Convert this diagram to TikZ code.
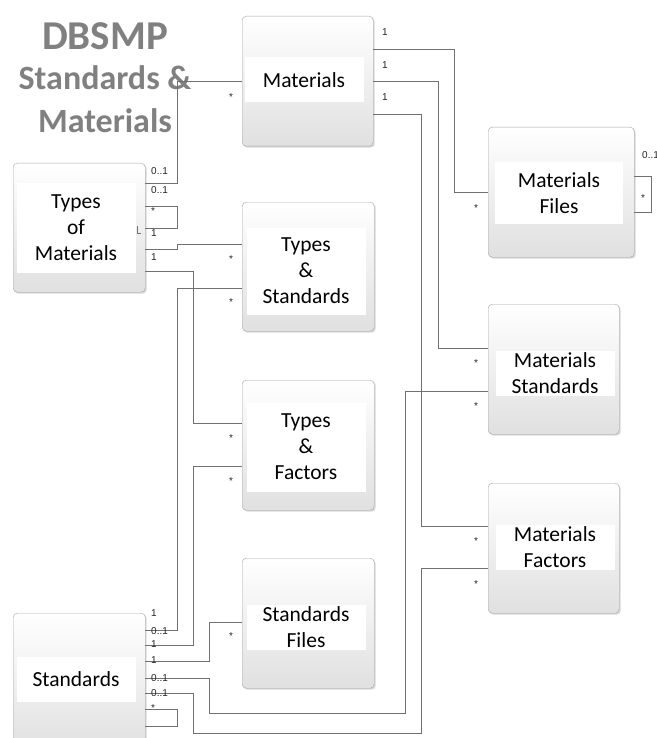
\documentclass[tikz,border=0pt]{standalone}
\usepackage{fontspec}
\setmainfont{Carlito}
\newfontfamily\multfont{Liberation Sans}
\usetikzlibrary{shadows}
\definecolor{boxedge}{RGB}{165,165,165}
\definecolor{boxlow}{RGB}{224,224,224}
\definecolor{relgray}{RGB}{112,112,112}
\definecolor{titlegray}{RGB}{128,128,128}
\definecolor{multgray}{RGB}{35,35,35}
\tikzset{
  entity/.style={draw=boxedge, rounded corners=4pt, top color=white, bottom color=boxlow,
    minimum width=131, minimum height=130, anchor=north west, inner sep=0,
    drop shadow={shadow xshift=1.5pt, shadow yshift=-1.5pt, opacity=0.3, fill=gray}},
  band/.style={fill=white, inner xsep=0, inner ysep=0.5, minimum width=119, minimum height=45,
    align=center, font=\fontsize{21.5}{26}\selectfont},
  rel/.style={draw=relgray, line width=0.9},
  mult/.style={font=\multfont\fontsize{10}{11}\selectfont, text=multgray, inner sep=0, anchor=west},
  star/.style={mult, anchor=center},
  heading/.style={anchor=base, text=titlegray, font=\bfseries\fontsize{34}{38}\selectfont},
}
\begin{document}
\begin{tikzpicture}[x=1pt, y=-1pt]
  \useasboundingbox (0,0) rectangle (656,738);

  \node (ttl1) at (105,50) [heading, font=\bfseries\fontsize{41}{44}\selectfont]{DBSMP};
  \node (ttl2) at (105,90) [heading]{Standards \&};
  \node (ttl3) at (105,133) [heading]{Materials};

  % tables
  \node (mat) at (242,16) [entity]{};
  \node (typmat) at (13,163) [entity, minimum width=132, minimum height=129]{};
  \node (typstd) at (242,202) [entity, minimum width=132, minimum height=129]{};
  \node (typfac) at (242,380) [entity, minimum width=132]{};
  \node (stdfil) at (242,558) [entity, minimum width=132]{};
  \node (std) at (13,613) [entity, minimum width=132, minimum height=140]{};
  \node (matfil) at (488,127) [entity, minimum width=146]{};
  \node (matstd) at (488,304) [entity]{};
  \node (matfac) at (488,483) [entity]{};

  \node (mat-t) at (304,80) [band]{Materials};
  \node (typmat-t) at (76,228) [band, minimum height=90]{Types\\of\\Materials};
  \node (typstd-t) at (306,271) [band, minimum height=87]{Types\\\&\\Standards};
  \node (typfac-t) at (306,447) [band, minimum height=89]{Types\\\&\\Factors};
  \node (stdfil-t) at (306,627) [band]{Standards\\Files};
  \node (std-t) at (76,679) [band]{Standards};
  \node (matfil-t) at (559,193) [band, minimum width=128, minimum height=61]{Materials\\Files};
  \node (matstd-t) at (555,373) [band]{Materials\\Standards};
  \node (matfac-t) at (555,547) [band]{Materials\\Factors};

  % relations
  \draw[rel] (typmat.east |- 0,183) -| (177,81) -- (mat.west |- 0,81);
  \draw[rel] (typmat.east |- 0,206) -| (177,228) -- (typmat.east |- 0,228);
  \draw[rel] (137,226) |- (141,233);
  \draw[rel] (typmat.east |- 0,249) -| (177,244) -- (typstd.west |- 0,244);
  \draw[rel] (typmat.east |- 0,271) -| (193,423) -- (typfac.west |- 0,423);
  \draw[rel] (std.east |- 0,630) -| (177,288) -- (typstd.west |- 0,288);
  \draw[rel] (std.east |- 0,645) -| (193,466) -- (typfac.west |- 0,466);
  \draw[rel] (std.east |- 0,661) -| (209,622) -- (stdfil.west |- 0,622);
  \draw[rel] (std.east |- 0,678) -| (209,713) -| (405,391) -- (matstd.west |- 0,391);
  \draw[rel] (std.east |- 0,693) -| (193,733) -| (421,568) -- (matfac.west |- 0,568);
  \draw[rel] (std.east |- 0,709) -| (177,726) -- (std.east |- 0,726);
  \draw[rel] (mat.east |- 0,49) -| (454,192) -- (matfil.west |- 0,192);
  \draw[rel] (mat.east |- 0,81) -| (438,348) -- (matstd.west |- 0,348);
  \draw[rel] (mat.east |- 0,114) -| (421,526) -- (matfac.west |- 0,526);
  \draw[rel] (matfil.east |- 0,176) -| (651,212) -- (matfil.east |- 0,212);

  % multiplicities
  \node (m1) at (151,171) [mult]{0..1};
  \node (m2) at (151,190) [mult]{0..1};
  \node (m3) at (151,211) [mult]{*};
  \node (m4) at (151,233) [mult]{1};
  \node (m5) at (151,257) [mult]{1};
  \node (m6) at (382,32) [mult]{1};
  \node (m7) at (382,65) [mult]{1};
  \node (m8) at (382,97) [mult]{1};
  \node (m9) at (642,155) [mult]{0..1};
  \node (m10) at (151,613) [mult]{1};
  \node (m11) at (151,631) [mult]{0..1};
  \node (m12) at (151,644) [mult]{1};
  \node (m13) at (151,660) [mult]{1};
  \node (m14) at (151,678) [mult]{0..1};
  \node (m15) at (151,693) [mult]{0..1};
  \node (m16) at (151,708) [mult]{*};
  \node (s1) at (231,97) [star]{*};
  \node (s2) at (231,259) [star]{*};
  \node (s3) at (231,302) [star]{*};
  \node (s4) at (231,438) [star]{*};
  \node (s5) at (231,481) [star]{*};
  \node (s6) at (231,636) [star]{*};
  \node (s7) at (476,208) [star]{*};
  \node (s8) at (476,363) [star]{*};
  \node (s9) at (476,406) [star]{*};
  \node (s10) at (476,541) [star]{*};
  \node (s11) at (476,584) [star]{*};
  \node (s12) at (643,198) [star]{*};
\end{tikzpicture}
\end{document}
